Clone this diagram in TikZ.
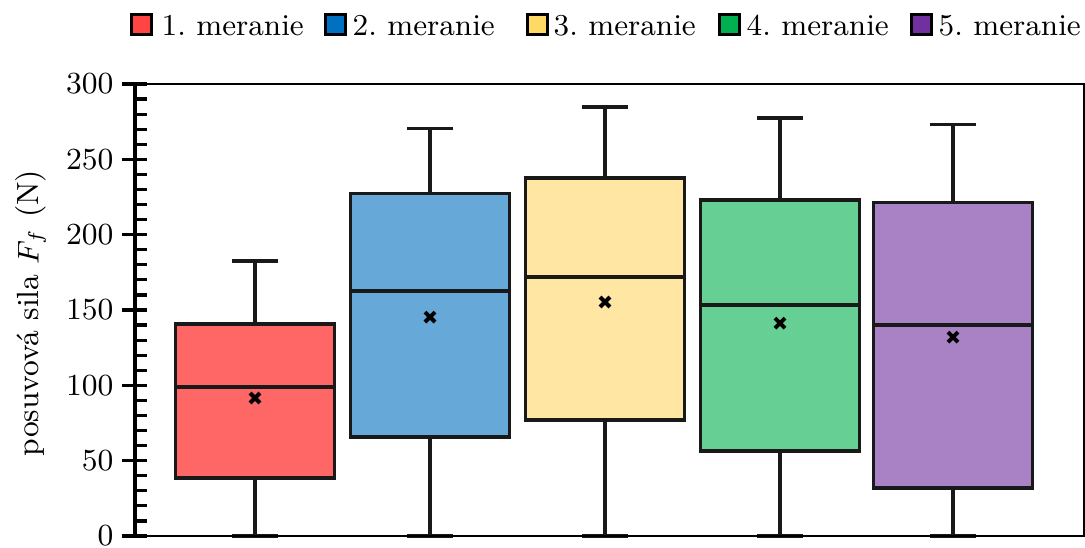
\documentclass[tikz,border=0pt]{standalone}
\usetikzlibrary{calc}
\definecolor{b1}{HTML}{FF6666}
\definecolor{b2}{HTML}{66A9D9}
\definecolor{b3}{HTML}{FFE6A3}
\definecolor{b4}{HTML}{66CF94}
\definecolor{b5}{HTML}{A882C4}
\definecolor{l1}{HTML}{FF4444}
\definecolor{l2}{HTML}{0070C0}
\definecolor{l3}{HTML}{FFD966}
\definecolor{l4}{HTML}{00B050}
\definecolor{l5}{HTML}{7030A0}
\tikzset{
  boxline/.style={line width=0.95pt, draw=black!90},
  whisk/.style={line width=0.95pt, black!90},
  meanmark/.style={line width=1.2pt, black},
  axisline/.style={line width=0.95pt, black},
  frameline/.style={line width=0.6pt, black},
  ticklab/.style={anchor=east, inner sep=0pt, font=\fontsize{9.2}{11}\selectfont},
  legsq/.style={draw=black, line width=0.9pt, minimum size=6pt, inner sep=0pt},
  legtxt/.style={anchor=base west, inner sep=0pt, font=\fontsize{9.1}{11}\selectfont\frenchspacing}
}
\begin{document}
\begin{tikzpicture}[x=0.3pt,y=-0.3pt]
\useasboundingbox (0,0) rectangle (1085,547);
% legend
\foreach \sx/\tx/\n in {141.5/161/1, 335/352/2, 537/553/3, 729/746/4, 921/938/5}{
  \node[legsq, fill=l\n] (sq\n) at (\sx,24.5) {};
  \node[legtxt] (lt\n) at (\tx,35) {\n.\ meranie};
}
% y label
\node[rotate=90, font=\fontsize{9.2}{11}\selectfont] (ylab) at (31,313) {posuvov\'a sila $F_f$ (N)};
\begin{scope}[yshift=-160.8pt, y=0.452pt]
  % boxes
  \foreach \c/\qa/\me/\qb/\wt/\mn/\n in {
      255/38.5/98.9/140.7/182.5/91.6/1,
      430/65.7/162.6/227.6/270.7/145.3/2,
      605/77/171.9/237.6/284.7/155.3/3,
      780/56.4/153.3/223/277.4/141.3/4,
      953/31.9/140/221.6/273.4/132/5}{
    \draw[whisk] (\c,0) -- (\c,\qa);
    \draw[whisk] (\c,\qb) -- (\c,\wt);
    \draw[whisk] (\c-23,0) -- (\c+23,0);
    \draw[whisk] (\c-23,\wt) -- (\c+23,\wt);
    \filldraw[boxline, fill=b\n] (\c-79.5,\qa) rectangle (\c+79.5,\qb);
    \draw[boxline] (\c-79.5,\me) -- (\c+79.5,\me);
    \draw[meanmark] (\c-5,\mn-3.3) -- (\c+5,\mn+3.3);
    \draw[meanmark] (\c-5,\mn+3.3) -- (\c+5,\mn-3.3);
  }
  % frame
  \draw[frameline] (135,300) -- (1083.5,300) -- (1083.5,0) -- (135,0);
  \draw[axisline] (135,0) -- (135,300);
  \foreach \v in {0,50,...,300}{
    \draw[axisline] (122,\v) -- (147,\v);
    \node[ticklab] (t\v) at (114,\v) {\v};
  }
  \foreach \v in {10,20,30,40,60,70,80,90,110,120,130,140,160,170,180,190,210,220,230,240,260,270,280,290}{
    \draw[axisline] (135,\v) -- (147,\v);
  }
\end{scope}
\end{tikzpicture}
\end{document}
